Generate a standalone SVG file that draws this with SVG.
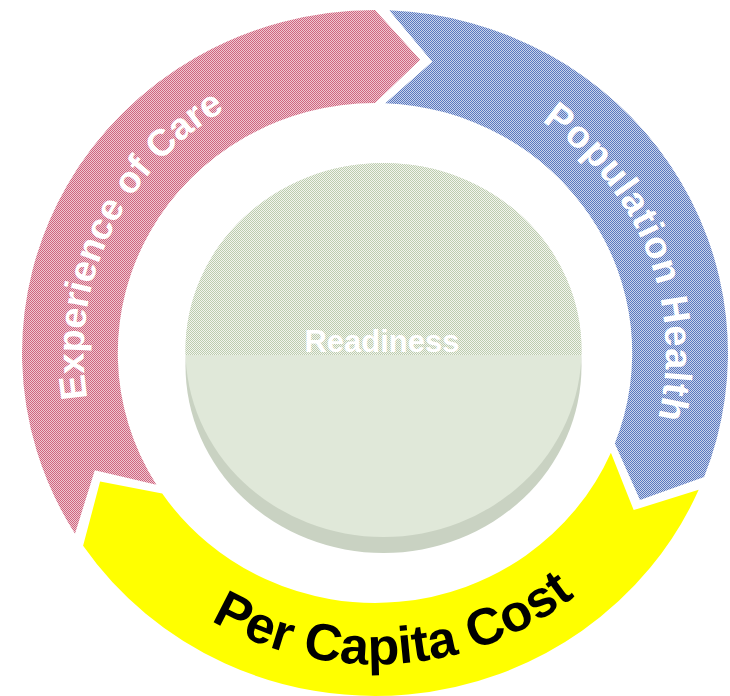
<svg xmlns="http://www.w3.org/2000/svg" xmlns:xlink="http://www.w3.org/1999/xlink" width="730" height="696" viewBox="0 0 730 696">
  <defs>
    <pattern id="ditherRed" patternUnits="userSpaceOnUse" width="2" height="2">
      <rect width="2" height="2" fill="#F0C6D0"/>
      <rect x="0" y="0" width="1" height="1" fill="#CE6680"/>
      <rect x="1" y="1" width="1" height="1" fill="#CE6680"/>
    </pattern>
    <pattern id="ditherBlue" patternUnits="userSpaceOnUse" width="2" height="2">
      <rect width="2" height="2" fill="#C8D3EC"/>
      <rect x="0" y="0" width="1" height="1" fill="#5A78BE"/>
      <rect x="1" y="1" width="1" height="1" fill="#5A78BE"/>
    </pattern>
    <pattern id="ditherGreen" patternUnits="userSpaceOnUse" width="2" height="2">
      <rect width="2" height="2" fill="#F2F5EE"/>
      <rect x="0" y="0" width="1" height="1" fill="#BCCCAE"/>
      <rect x="1" y="1" width="1" height="1" fill="#BCCCAE"/>
    </pattern>
    <clipPath id="topHalf">
      <rect x="0" y="0" width="730" height="355"/>
    </clipPath>
    <path id="pathExp" d="M 231.6,599.3 A 291.2 283 0 0 1 472.2,86.2"/>
    <path id="pathPop" d="M 297.7,80.2 A 291.2 283 0 0 1 499.9,608.6"/>
    <path id="pathCost" d="M 58.9,401.6 A 320 311 0 0 0 695.0,358.4"/>
    <style>
      .lbl { font-family: "Liberation Sans", Arial, sans-serif; font-weight: bold; }
      .white { fill: #FFFFFF; }
    </style>
  </defs>

  <rect width="730" height="696" fill="#FFFFFF"/>

  <g id="node-experience">
    <path d="M 75.0,533.7 A 353 343 0 0 1 375,10 L 420.1,59.8 L 375,103 A 257.3 250 0 0 0 156.4,484.7 L 94.8,470.3 Z" fill="url(#ditherRed)"/>
    <text class="lbl white" font-size="37.5"><textPath xlink:href="#pathExp" href="#pathExp" startOffset="50%" text-anchor="middle">Experience of Care</textPath></text>
  </g>

  <g id="node-population">
    <path d="M 389.2,10.3 A 353 343 0 0 1 704.1,477.0 L 640.0,499.9 L 614.8,443.4 A 257.3 250 0 0 0 385.3,103.2 L 432.2,61.7 Z" fill="url(#ditherBlue)"/>
    <text class="lbl white" font-size="38" letter-spacing="1"><textPath xlink:href="#pathPop" href="#pathPop" startOffset="50%" text-anchor="middle">Population Health</textPath></text>
  </g>

  <g id="node-cost">
    <path d="M 698.7,489.8 A 353 343 0 0 1 83.1,545.8 L 100.1,481.6 L 162.2,493.5 A 257.3 250 0 0 0 610.9,452.7 L 633.7,510.1 Z" fill="#FFFF00"/>
    <text class="lbl" font-size="52" fill="#000000"><textPath xlink:href="#pathCost" href="#pathCost" startOffset="50%" text-anchor="middle">Per Capita Cost</textPath></text>
  </g>

  <g id="node-readiness">
    <ellipse cx="383.5" cy="366" rx="198" ry="187" fill="#C9D2C2"/>
    <ellipse cx="383.5" cy="350" rx="198" ry="187" fill="#E0E8D9"/>
    <ellipse cx="383.5" cy="350" rx="198" ry="187" fill="url(#ditherGreen)" clip-path="url(#topHalf)"/>
    <text class="lbl white" x="382" y="352" font-size="31" text-anchor="middle">Readiness</text>
  </g>

  <g id="connectors"/>
</svg>
